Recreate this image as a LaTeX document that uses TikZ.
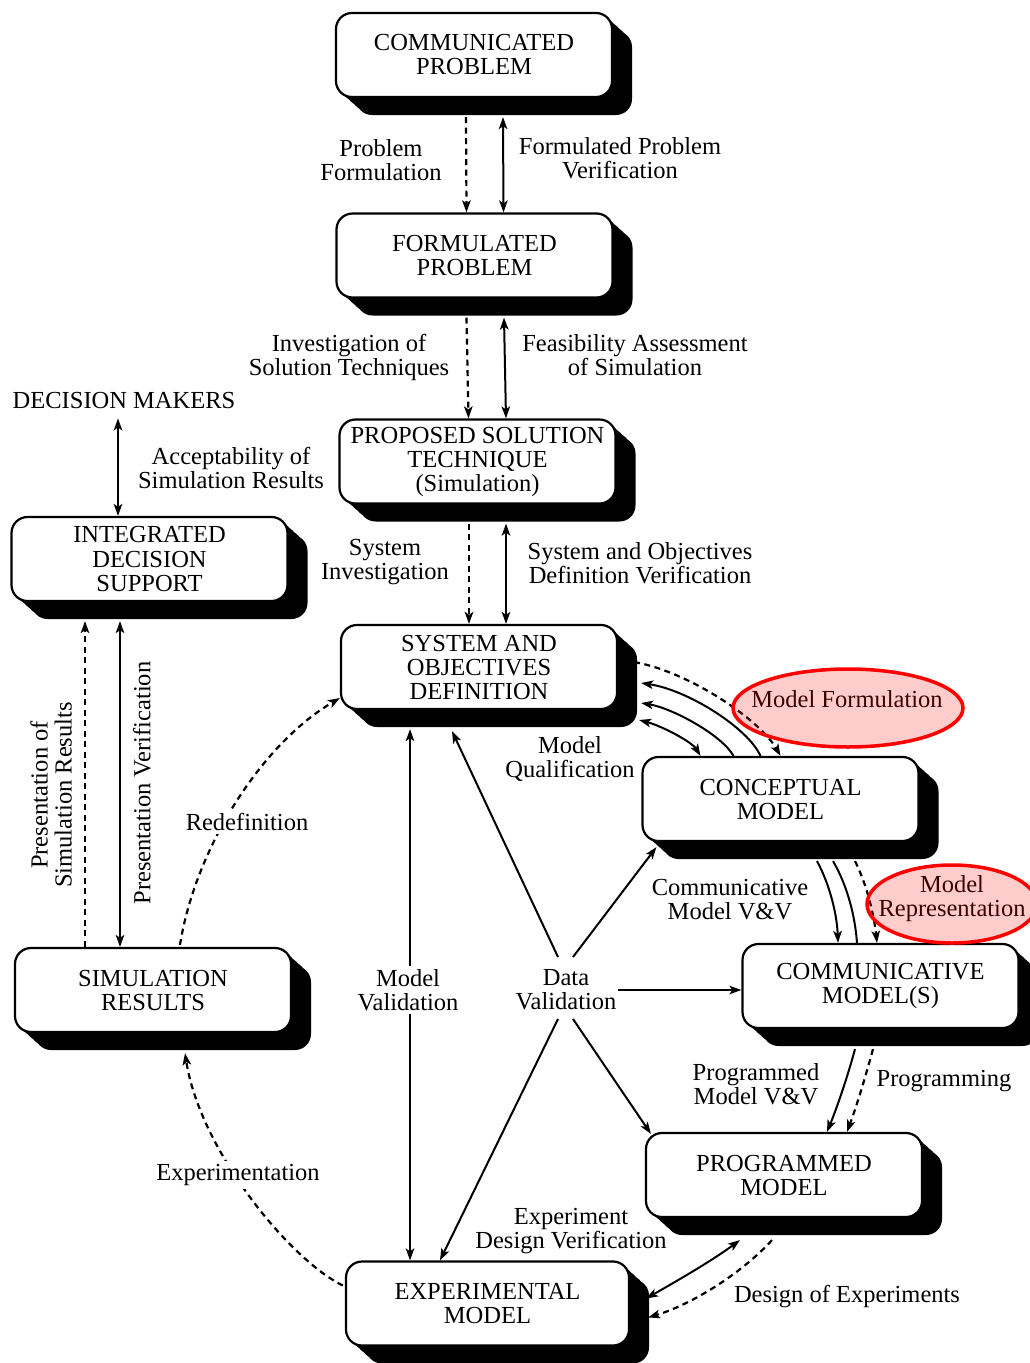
\documentclass[tikz,border=0pt]{standalone}
\usepackage{fontspec}
\setmainfont{Liberation Serif}
\usetikzlibrary{shadows,shapes.geometric,arrows.meta,calc}
\newcommand{\dgfont}{\fontsize{24.5}{24}\selectfont}
\definecolor{maroon}{RGB}{60,0,0}
\begin{document}
\begin{tikzpicture}[x=1pt,y=-1pt,
  >={Stealth[length=12pt,width=8.5pt,inset=3pt]},
  boxst/.style={draw, line width=2.2pt, fill=white, rounded corners=16pt,
    minimum width=276pt, minimum height=84pt, align=center, font=\dgfont, inner sep=1pt,
    drop shadow={shadow xshift=5pt,shadow yshift=-4.5pt,opacity=1,fill=black},
    drop shadow={shadow xshift=10pt,shadow yshift=-9pt,opacity=1,fill=black},
    drop shadow={shadow xshift=15pt,shadow yshift=-13.5pt,opacity=1,fill=black},
    drop shadow={shadow xshift=20pt,shadow yshift=-18pt,opacity=1,fill=black}},
  lbl/.style={font=\dgfont, align=center, inner sep=1pt},
  lblw/.style={lbl, fill=white, inner sep=3pt},
  sol/.style={line width=2pt},
  dsh/.style={line width=2.2pt, dash pattern=on 6pt off 4.5pt},
  hl/.style={ellipse, draw=red, line width=3.5pt, fill=red, fill opacity=0.2, draw opacity=1, inner sep=0pt}
]
\useasboundingbox (0,0) rectangle (1030,1363);

% boxes
\node[boxst] (cp) at (474,55) {COMMUNICATED\\PROBLEM};
\node[boxst] (fp) at (474.5,255.5) {FORMULATED\\PROBLEM};
\node[boxst] (pst) at (477.5,461.5) {PROPOSED SOLUTION\\TECHNIQUE\\(Simulation)};
\node[boxst] (sod) at (479,667) {SYSTEM AND\\OBJECTIVES\\DEFINITION};
\node[boxst] (ids) at (149.5,559) {INTEGRATED\\DECISION\\SUPPORT};
\node[boxst] (sr) at (153,990) {SIMULATION\\RESULTS};
\node[boxst] (cm) at (780.5,799) {CONCEPTUAL\\MODEL};
\node[boxst] (com) at (880.5,986) {COMMUNICATIVE\\MODEL(S)};
\node[boxst] (pm) at (784,1175) {PROGRAMMED\\MODEL};
\node[boxst, minimum width=283pt] (em) at (487.5,1303.5) {EXPERIMENTAL\\MODEL};

\node[lbl] (dm) at (124,401) {DECISION MAKERS};
\node[lbl] (dv) at (566,990) {Data\\Validation};

% vertical chain
\draw[dsh,->] ([shift={(-8,19)}]cp.south) -- ([shift={(-8,0)}]fp.north);
\draw[sol,<->] ([shift={(29,19)}]cp.south) -- ([shift={(29,0)}]fp.north);
\draw[dsh,->] ([shift={(-8,19)}]fp.south) -- ([shift={(-9,0)}]pst.north);
\draw[sol,<->] ([shift={(29.5,19)}]fp.south) -- ([shift={(28.5,0)}]pst.north);
\draw[dsh,->] ([shift={(-8.5,19)}]pst.south) -- ([shift={(-10,0)}]sod.north);
\draw[sol,<->] ([shift={(28.5,19)}]pst.south) -- ([shift={(27,0)}]sod.north);

% decision makers / integrated decision support / simulation results
\draw[sol,<->] ([shift={(-6,8)}]dm.south) -- ([shift={(-31.5,0)}]ids.north);
\draw[dsh,->] ([shift={(-68,0)}]sr.north) -- ([shift={(-64.5,19)}]ids.south);
\draw[sol,<->] ([shift={(-29.5,19)}]ids.south) -- ([shift={(-33,0)}]sr.north);

% redefinition and experimentation
\draw[dsh,->] ([shift={(27,-2)}]sr.north) .. controls (195,850) and (260,745) .. ([shift={(0,31)}]sod.west);
\draw[dsh,->] ([shift={(-2,-18)}]em.west) .. controls (290,1260) and (200,1150) .. ([shift={(32,20)}]sr.south);

% SOD - CM arcs
\draw[dsh,->] ([shift={(16,-5)}]sod.east) .. controls (690,672) and (760,720) .. (cm.north);
\draw[sol,->] ([shift={(-20,0)}]cm.north) .. controls (748,728) and (688,690) .. ([shift={(23,16)}]sod.east);
\draw[sol,->] ([shift={(-47,0)}]cm.north) .. controls (722,735) and (672,708) .. ([shift={(23,36)}]sod.east);
\draw[sol,<->] ([shift={(-80,0)}]cm.north) .. controls (692,742) and (662,726) .. ([shift={(21,53)}]sod.east);

% CM - COM
\draw[sol,->] ([shift={(36.5,19)}]cm.south) .. controls (830,885) and (837,915) .. ([shift={(-42.5,0)}]com.north);
\draw[sol] ([shift={(52.5,19)}]cm.south) .. controls (847,885) and (855,915) .. ([shift={(-23.5,0)}]com.north);
\draw[dsh,->] ([shift={(74.5,19)}]cm.south) .. controls (867,885) and (874,915) .. ([shift={(-3.5,0)}]com.north);

% COM - PM
\draw[sol,->] ([shift={(-25.5,20)}]com.south) .. controls (848,1075) and (838,1105) .. ([shift={(43,0)}]pm.north);
\draw[dsh,->] ([shift={(-7.5,20)}]com.south) .. controls (866,1075) and (857,1105) .. ([shift={(63,0)}]pm.north);

% PM - EM
\draw[sol,<->] ([shift={(-44,22)}]pm.south) .. controls (710,1262) and (675,1282) .. ([shift={(16,-5)}]em.east);
\draw[dsh,->] ([shift={(-12,22)}]pm.south) .. controls (740,1275) and (690,1305) .. ([shift={(18,14)}]em.east);

% model validation
\draw[sol,<->] ([shift={(-69,19)}]sod.south) -- ([shift={(-77.5,0)}]em.north);

% data validation
\draw[sol,->] ([shift={(-8,-33)}]dv.center) -- ([shift={(-27,21)}]sod.south);
\draw[sol,->] ([shift={(7,-33)}]dv.center) -- ([shift={(15,5)}]cm.south west);
\draw[sol,->] (dv.east) -- (dv.east -| com.west);
\draw[sol,->] ([shift={(7,29)}]dv.center) -- ([shift={(6,2)}]pm.north west);
\draw[sol,->] ([shift={(-8,29)}]dv.center) -- ([shift={(-47.5,0)}]em.north);

% labels
\node[lbl] (l1) at (381,160) {Problem\\Formulation};
\node[lbl] (l2) at (620,158) {Formulated Problem\\Verification};
\node[lbl] (l3) at (349,357) {Investigation of\\Solution Techniques};
\node[lbl] (l4) at (635,355) {Feasibility Assessment\\of Simulation};
\node[lbl] (l5) at (231,468) {Acceptability of\\Simulation Results};
\node[lbl] (l6) at (385,562) {System\\Investigation};
\node[lbl] (l7) at (640,563) {System and Objectives\\Definition Verification};
\node[lbl] (l8) at (570,759) {Model\\Qualification};
\node[lblw] (l9) at (247,822) {Redefinition};
\node[lbl, rotate=90] (l10) at (51,795) {Presentation of\\Simulation Results};
\node[lbl, rotate=90] (l11) at (142,783) {Presentation Verification};
\node[lbl] (l12) at (730,900) {Communicative\\Model V\&V};
\node[lblw] (l13) at (408,990) {Model\\Validation};
\node[lbl] (l14) at (756,1084) {Programmed\\Model V\&V};
\node[lbl] (l15) at (944,1081) {Programming};
\node[lblw] (l16) at (238,1175) {Experimentation};
\node[lbl] (l17) at (571,1231) {Experiment\\Design Verification};
\node[lbl] (l18) at (847,1297) {Design of Experiments};

% highlight ellipses
\node[hl, minimum width=230pt, minimum height=78pt] (e1) at (848,708) {};
\node[lbl, text=maroon] (t1) at (847,699) {Model Formulation};
\node[hl, minimum width=170pt, minimum height=78pt] (e2) at (952,904) {};
\node[lbl, text=maroon] (t2) at (952,899) {Model\\Representation};
\end{tikzpicture}
\end{document}
